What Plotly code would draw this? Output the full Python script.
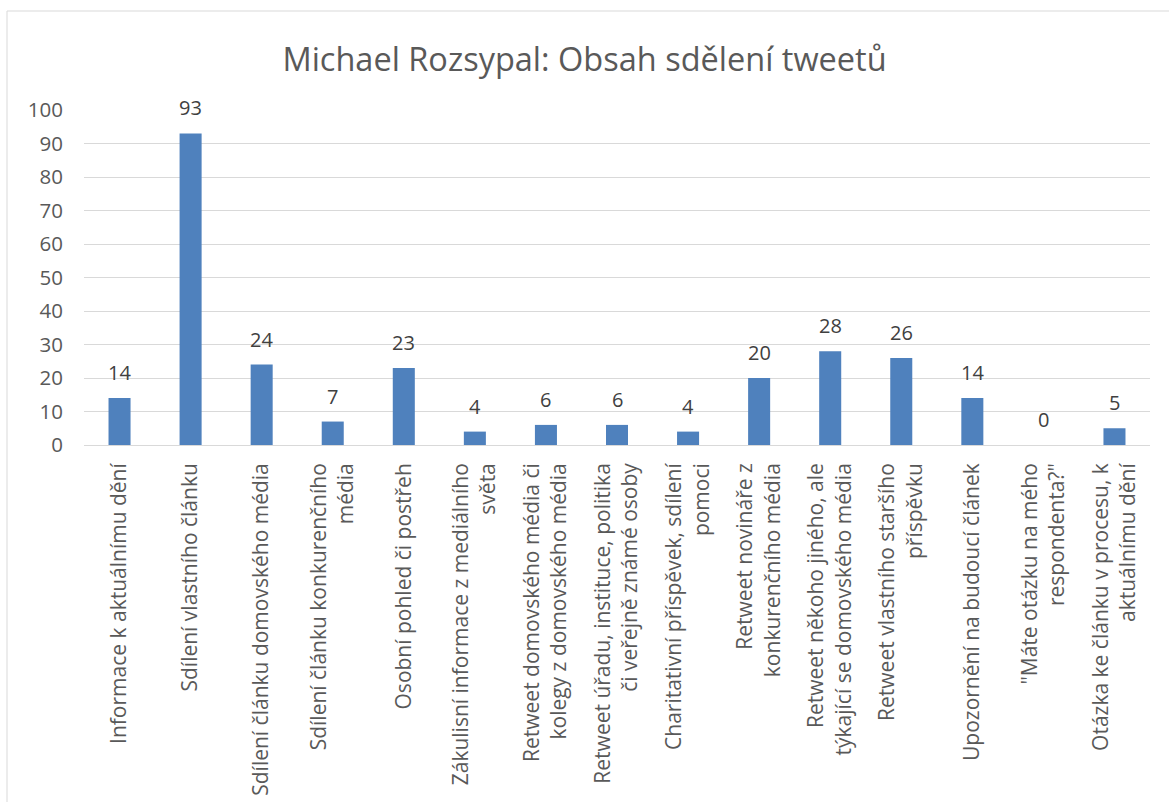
import plotly.graph_objects as go

categories = [
    "Informace k aktuálnímu dění",
    "Sdílení vlastního článku",
    "Sdílení článku domovského média",
    "Sdílení článku konkurenčního<br>média",
    "Osobní pohled či postřeh",
    "Zákulisní informace z mediálního<br>světa",
    "Retweet domovského média či<br>kolegy z domovského média",
    "Retweet úřadu, instituce, politika<br>či veřejně známé osoby",
    "Charitativní příspěvek, sdílení<br>pomoci",
    "Retweet novináře z<br>konkurenčního média",
    "Retweet někoho jiného, ale<br>týkající se domovského média",
    "Retweet vlastního staršího<br>příspěvku",
    "Upozornění na budoucí článek",
    "\"Máte otázku na mého<br>respondenta?\"",
    "Otázka ke článku v procesu, k<br>aktuálnímu dění",
]
values = [14, 93, 24, 7, 23, 4, 6, 6, 4, 20, 28, 26, 14, 0, 5]
y_ticks = [0, 10, 20, 30, 40, 50, 60, 70, 80, 90, 100]

FONT = "Open Sans"
xs = list(range(len(categories)))

fig = go.Figure(
    go.Bar(
        x=xs,
        y=values,
        marker=dict(color="#4F81BD", line=dict(width=0)),
        cliponaxis=False,
        width=0.31,
        hoverinfo="x+y",
    )
)

for x, v in zip(xs, values):
    fig.add_annotation(
        x=x, y=v, xref="x", yref="y",
        text=str(v),
        showarrow=False,
        yanchor="bottom",
        yshift=10,
        font=dict(family=FONT, size=20, color="#404040"),
    )

fig.update_layout(
    width=1169,
    height=802,
    margin=dict(l=84, r=19, t=110, b=357),
    paper_bgcolor="white",
    plot_bgcolor="white",
    showlegend=False,
    title=dict(
        text="Michael Rozsypal: Obsah sdělení tweetů",
        x=0.5, xanchor="center",
        y=1 - 60 / 802, yanchor="middle",
        font=dict(family=FONT, size=32.5, color="#595959"),
    ),
    xaxis=dict(
        tickmode="array",
        tickvals=xs,
        ticktext=categories,
        tickangle=-90,
        range=[-0.5, len(categories) - 0.5],
        showgrid=False,
        zeroline=False,
        showline=False,
        ticks="",
        automargin=False,
        tickfont=dict(family=FONT, size=21, color="#595959"),
        ticklabelstandoff=13,
    ),
    yaxis=dict(
        range=[0, 100],
        tickmode="array",
        tickvals=y_ticks,
        showgrid=True,
        gridcolor="#D9D9D9",
        gridwidth=1.3,
        zeroline=True,
        zerolinecolor="#D9D9D9",
        zerolinewidth=1.3,
        showline=False,
        ticks="",
        automargin=False,
        tickfont=dict(family=FONT, size=20.5, color="#595959"),
        ticklabelstandoff=20,
    ),
    shapes=[
        dict(
            type="rect", xref="paper", yref="paper",
            x0=(7 - 84) / 1066, x1=1.05,
            y0=-1.2, y1=1 + (110 - 11) / 335,
            line=dict(color="#D9D9D9", width=1),
            fillcolor="rgba(0,0,0,0)",
            layer="below",
        )
    ],
)

fig.write_html(
    "out.html",
    config={"displayModeBar": False},
    post_script="document.body.style.margin='0';document.body.style.overflow='hidden';",
)
